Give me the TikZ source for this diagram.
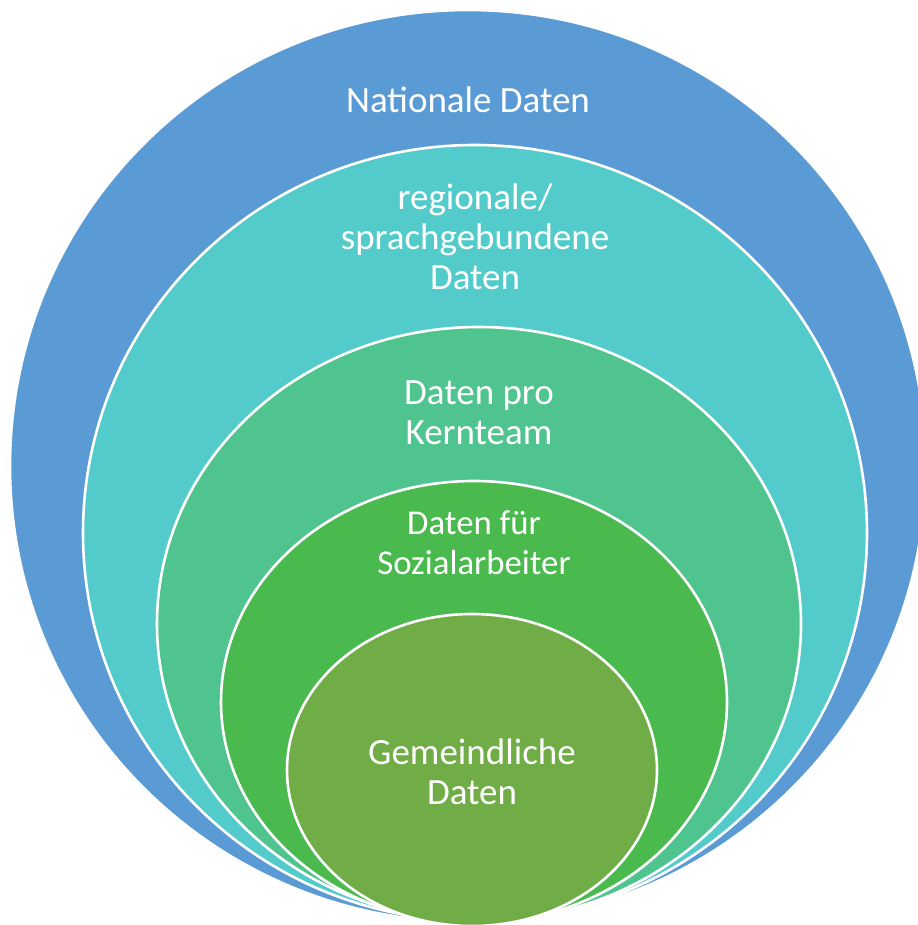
\documentclass[tikz,border=0pt]{standalone}
\usepackage{fontspec}
\setmainfont{Carlito}
\usepackage{tikz}
\usetikzlibrary{positioning}
\definecolor{natblue}{HTML}{5B9BD5}
\definecolor{regteal}{HTML}{54CBCB}
\definecolor{kernmint}{HTML}{4FC48E}
\definecolor{sozgreen}{HTML}{4ABA4E}
\definecolor{gemolive}{HTML}{70AD47}
\tikzset{ring/.style = {draw = white, line width = 1.3pt}}
\tikzset{lbl/.style = {text = white, align = center, inner sep = 0,
                       font = \fontsize{18.5}{20}\selectfont}}

\begin{document}
\begin{tikzpicture}[x = 0.5pt, y = -0.5pt]
    \useasboundingbox (0, 0) rectangle (917, 925);

    \filldraw [ring, fill = natblue] (468, 466) ellipse [x radius = 458, y radius = 456];
    \filldraw [ring, fill = regteal] (475, 533) ellipse [x radius = 392, y radius = 388];
    \filldraw [ring, fill = kernmint] (479, 624) ellipse [x radius = 322, y radius = 297];
    \filldraw [ring, fill = sozgreen] (474, 702) ellipse [x radius = 253, y radius = 221];
    \filldraw [ring, fill = gemolive] (472, 770) ellipse [x radius = 185, y radius = 156];

    \node [lbl] (nat) at (468, 100) {Nationale Daten};
    \node [lbl] (reg) at (475, 237) {regionale/\\sprachgebundene\\Daten};
    \node [lbl] (kern) at (479, 413) {Daten pro\\Kernteam};
    \node [lbl, font = \fontsize{17.4}{20}\selectfont] (soz) at (474, 543) {Daten für\\Sozialarbeiter};
    \node [lbl] (gem) at (472, 772) {Gemeindliche\\Daten};
\end{tikzpicture}
\end{document}
